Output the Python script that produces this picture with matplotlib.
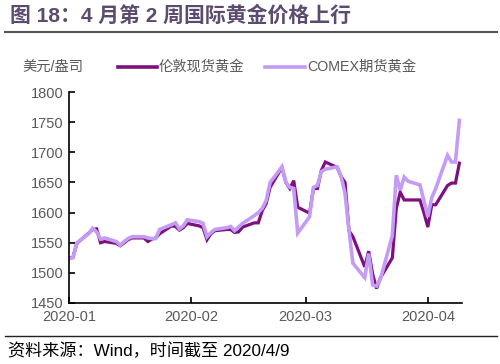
import pandas as pd
import matplotlib
matplotlib.use("Agg")
import matplotlib.pyplot as plt
import matplotlib.dates as mdates
from matplotlib.lines import Line2D

plt.rcParams['font.family'] = ['Liberation Sans', 'Noto Sans CJK SC', 'DejaVu Sans']

# Données
dates = pd.bdate_range("2020-01-01", "2020-04-09")
london_spot = [
    1524, 1526, 1549, 1566, 1572, 1573, 1550, 1552, 1549, 1545,
    1550, 1555, 1558, 1558, 1552, 1556, 1558, 1565, 1578, 1577,
    1571, 1575, 1582, 1578, 1575, 1555, 1565, 1570, 1572, 1572,
    1567, 1568, 1576, 1583, 1583, 1603, 1615, 1642, 1675, 1650,
    1640, 1653, 1609, 1599, 1640, 1640, 1670, 1684, 1675, 1660,
    1650, 1570, 1560, 1510, 1536, 1498, 1474, 1492, 1525, 1607,
    1634, 1621, 1621, 1621, 1600, 1576, 1613, 1613, 1645, 1649,
    1649, 1682,
]
comex_futures = [
    1524, 1525, 1550, 1565, 1574, 1568, 1556, 1558, 1552, 1546,
    1552, 1557, 1560, 1560, 1558, 1557, 1557, 1572, 1580, 1583,
    1573, 1578, 1588, 1585, 1582, 1560, 1567, 1572, 1575, 1577,
    1570, 1576, 1582, 1595, 1600, 1607, 1620, 1650, 1676, 1650,
    1642, 1640, 1566, 1593, 1642, 1645, 1668, 1672, 1676, 1660,
    1632, 1571, 1516, 1492, 1532, 1480, 1478, 1490, 1562, 1662,
    1637, 1659, 1652, 1646, 1620, 1593, 1625, 1640, 1695, 1684,
    1684, 1753,
]
yticks = [1450, 1500, 1550, 1600, 1650, 1700, 1750, 1800]
series_names = ["伦敦现货黄金", "COMEX期货黄金"]
colors = ["#7E107E", "#C49CF6"]
title = "图 18：4 月第 2 周国际黄金价格上行"
source = "资料来源：Wind，时间截至 2020/4/9"
unit = "美元/盎司"

fig = plt.figure(figsize=(5.0, 3.64), dpi=100)
ax = fig.add_axes([0.138, 0.1676, 0.786, 0.5794])

ax.plot(dates, london_spot, color=colors[0], linewidth=2.3, solid_joinstyle='miter')
ax.plot(dates, comex_futures, color=colors[1], linewidth=2.6, solid_joinstyle='miter')

ax.set_ylim(1450, 1800)
ax.set_yticks(yticks)
ax.set_xlim(pd.Timestamp("2020-01-01"), pd.Timestamp("2020-04-09 16:00"))
ax.xaxis.set_major_locator(mdates.MonthLocator())
ax.xaxis.set_major_formatter(mdates.DateFormatter("%Y-%m"))

for side in ["top", "right"]:
    ax.spines[side].set_visible(False)
for side in ["left", "bottom"]:
    ax.spines[side].set_linewidth(1.2)
    ax.spines[side].set_color("black")
ax.tick_params(direction="in", length=4, width=1.2, colors="black",
               labelcolor="#595959", labelsize=10.5)
ax.tick_params(axis="x", pad=5)
ax.tick_params(axis="y", pad=4)

# Titre et lignes de séparation
fig.text(0.02, 0.958, title, fontsize=15, fontweight="bold", color="#5B4B6E",
         va="center", ha="left", family=['Liberation Sans', 'Noto Sans CJK SC'])
fig.add_artist(Line2D([0.01, 0.994], [0.912, 0.912], color="#555555", linewidth=1.5))
fig.add_artist(Line2D([0.01, 0.994], [0.077, 0.077], color="#222222", linewidth=1.0))
fig.text(0.016, 0.036, source, fontsize=12.3, color="black", va="center", ha="left")

# Légende
fig.text(0.044, 0.817, unit, fontsize=10.3, color="#595959", va="center", ha="left")
legend_y = 0.817
fig.add_artist(Line2D([0.236, 0.314], [legend_y, legend_y], color=colors[0], linewidth=2.6))
fig.text(0.318, legend_y, series_names[0], fontsize=10.3, color="#595959", va="center", ha="left")
fig.add_artist(Line2D([0.530, 0.610], [legend_y, legend_y], color=colors[1], linewidth=2.6))
fig.text(0.614, legend_y, series_names[1], fontsize=10.3, color="#595959", va="center", ha="left")

fig.savefig("out.png", dpi=100)
